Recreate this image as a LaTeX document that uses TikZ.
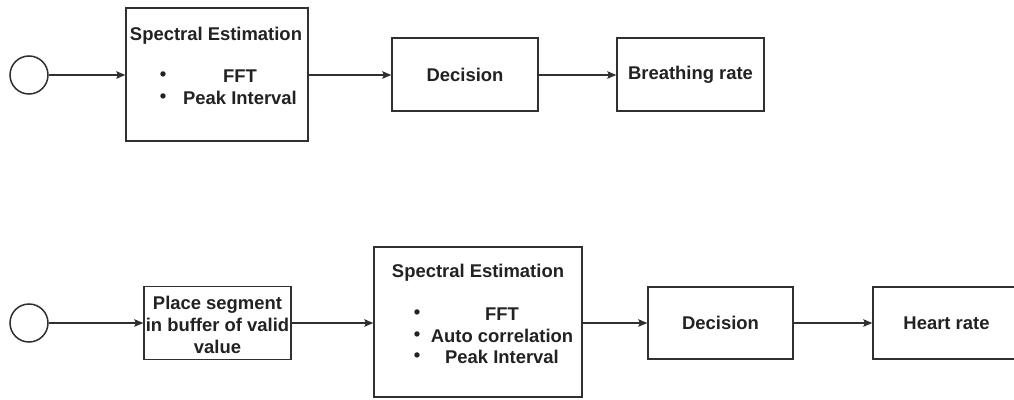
\documentclass[tikz,border=0pt]{standalone}
\usepackage{fontspec}
\setmainfont{Liberation Sans}
\usetikzlibrary{arrows.meta}

\definecolor{lineclr}{HTML}{303030}
\definecolor{txtclr}{HTML}{222222}

\tikzset{
  blk/.style={draw=lineclr,line width=1.4bp,inner sep=0pt,fill=white},
  startcirc/.style={circle,draw=lineclr,line width=1.5bp,minimum size=38bp,inner sep=0pt},
  lbl/.style={text=txtclr,inner sep=0pt,font=\fontsize{18.5}{22}\selectfont\bfseries},
  flow/.style={draw=lineclr,line width=1.2bp,-{Stealth[length=9bp,width=7.5bp,inset=1.5bp]}}
}

\begin{document}
\begin{tikzpicture}[x=1bp,y=1bp]
\path[use as bounding box] (0,0) rectangle (1014,399);
\clip (0,0) rectangle (1014,399);
% breathing rate chain
\node[startcirc] (bstart) at (29,324) {};
\node[blk,minimum width=182bp,minimum height=133bp] (bspec) at (217,324.5) {};
\node[lbl] (bspect) at (216,363) {Spectral Estimation};
\node[lbl] (bdot1) at (163,323) {\textbullet};\node[lbl] (bfft) at (240,323) {FFT};
\node[lbl] (bdot2) at (163,301) {\textbullet};\node[lbl] (bpeak) at (240,301) {Peak Interval};
\node[blk,minimum width=146bp,minimum height=73bp] (bdec) at (465,324.5) {};
\node[lbl] at (bdec) {Decision};
\node[blk,minimum width=147bp,minimum height=73bp] (brate) at (690.5,324.5) {};
\node[lbl] at (brate) {Breathing rate};
\draw[flow] (bstart.east) -- (bspec.west |- bstart.east);
\draw[flow] (bspec.east |- bstart.east) -- (bdec.west |- bstart.east);
\draw[flow] (bdec.east |- bstart.east) -- (brate.west |- bstart.east);
% heart rate chain
\node[startcirc] (hstart) at (29,76) {};
\node[blk,minimum width=147bp,minimum height=73bp] (hbuf) at (217.5,76) {};
\node[lbl,align=center] at (217.5,74) {Place segment\\in buffer of valid\\value};
\node[blk,minimum width=208bp,minimum height=150bp] (hspec) at (478,77) {};
\node[lbl] (hspect) at (478,126) {Spectral Estimation};
\node[lbl] (hdot1) at (417,85) {\textbullet};\node[lbl] (hfft) at (502,85) {FFT};
\node[lbl] (hdot2) at (417,63) {\textbullet};\node[lbl] (hauto) at (502,63) {Auto correlation};
\node[lbl] (hdot3) at (417,42) {\textbullet};\node[lbl] (hpeak) at (502,42) {Peak Interval};
\node[blk,minimum width=145bp,minimum height=72bp] (hdec) at (720.5,76) {};
\node[lbl] at (hdec) {Decision};
\node[blk,minimum width=147bp,minimum height=72bp] (hrate) at (946.5,76) {};
\node[lbl] at (hrate) {Heart rate};
\draw[flow] (hstart.east) -- (hbuf.west |- hstart.east);
\draw[flow] (hbuf.east |- hstart.east) -- (hspec.west |- hstart.east);
\draw[flow] (hspec.east |- hstart.east) -- (hdec.west |- hstart.east);
\draw[flow] (hdec.east |- hstart.east) -- (hrate.west |- hstart.east);
\end{tikzpicture}
\end{document}
